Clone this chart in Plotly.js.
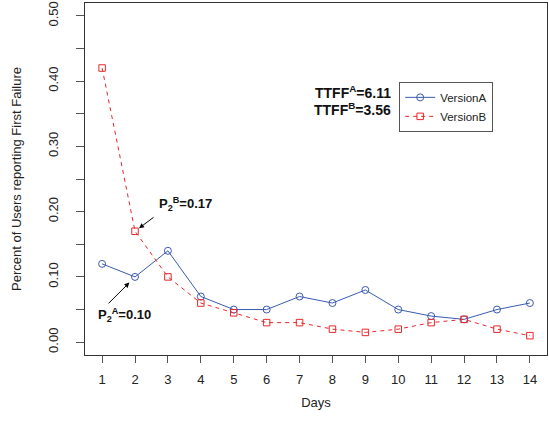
<!DOCTYPE html>
<html>
<head>
<meta charset="utf-8">
<script src="https://cdn.plot.ly/plotly-3.0.1.min.js"></script>
<style>html,body{margin:0;padding:0;background:#fff;}#chart{width:549px;height:423px;}</style>
</head>
<body>
<div id="chart"></div>
<script>
const days = [1,2,3,4,5,6,7,8,9,10,11,12,13,14];
const versionA = [0.12,0.10,0.14,0.07,0.05,0.05,0.07,0.06,0.08,0.05,0.04,0.035,0.05,0.06];
const versionB = [0.42,0.17,0.10,0.06,0.045,0.03,0.03,0.02,0.015,0.02,0.03,0.035,0.02,0.01];
const yTicks = [0,0.1,0.2,0.3,0.4,0.5];
const yTickLabels = ['0.00','0.10','0.20','0.30','0.40','0.50'];
const ttffA = '6.11', ttffB = '3.56';
const p2A = versionA[1], p2B = versionB[1];

const blue = '#3a5bb0', red = '#e8282b';
const font = 'Liberation Sans, Arial, sans-serif';

const traces = [
  {x: days, y: versionA, name: 'VersionA', type: 'scatter', mode: 'lines+markers',
   line: {color: blue, width: 1},
   marker: {symbol: 'circle-open', size: 7, color: blue, line: {width: 1, color: blue}}},
  {x: days, y: versionB, name: 'VersionB', type: 'scatter', mode: 'lines+markers',
   line: {color: red, width: 1, dash: '4px,4px'},
   marker: {symbol: 'square-open', size: 6.5, color: red, line: {width: 1, color: red}}}
];

const layout = {
  width: 549, height: 423,
  margin: {l: 85, r: 2, t: 3, b: 68},
  paper_bgcolor: '#fff', plot_bgcolor: '#fff',
  font: {family: font, color: '#222', size: 13},
  showlegend: true,
  legend: {x: 0.68, y: 0.776, xanchor: 'left', yanchor: 'top',
    bordercolor: '#555', borderwidth: 1, bgcolor: '#fff',
    font: {size: 11.5, color: '#222'}, tracegroupgap: 0},
  xaxis: {range: [0.48, 14.52], tickvals: days, ticktext: days.map(String),
    showgrid: false, zeroline: false, showline: true, mirror: true, linecolor: '#333', linewidth: 1,
    ticks: 'outside', ticklen: 7, tickcolor: '#555', ticklabelstandoff: 5,
    tickfont: {size: 13},
    title: {text: 'Days', font: {size: 13}, standoff: 12}},
  yaxis: {range: [-0.0196, 0.5196], tickvals: yTicks, ticktext: yTickLabels, tickangle: -90,
    showgrid: false, zeroline: false, showline: true, mirror: true, linecolor: '#333', linewidth: 1,
    ticks: 'outside', ticklen: 8, tickcolor: '#555', ticklabelstandoff: 13,
    minor: {dtick: 0.05, tick0: 0, ticks: 'outside', ticklen: 8, tickcolor: '#555', showgrid: false},
    tickfont: {size: 13},
    title: {text: 'Percent of Users reporting First Failure', font: {size: 13}, standoff: 21}},
  annotations: [
    {x: 2, y: p2B, xref: 'x', yref: 'y', text: '', showarrow: true, ax: 20, ay: -15,
     arrowhead: 2, arrowsize: 1, arrowwidth: 1, arrowcolor: '#000', standoff: 5},
    {x: 2, y: p2A, xref: 'x', yref: 'y', text: '', showarrow: true, ax: -28, ay: 28,
     arrowhead: 2, arrowsize: 1, arrowwidth: 1, arrowcolor: '#000', standoff: 8},
    {x: 2, y: p2B, xref: 'x', yref: 'y', showarrow: false, xshift: 50, yshift: 27,
     text: '<b>P<sub>2</sub><sup>B</sup>=' + p2B.toFixed(2) + '</b>', font: {size: 13, color: '#111'}},
    {x: 2, y: p2A, xref: 'x', yref: 'y', showarrow: false, xshift: -11, yshift: -38,
     text: '<b>P<sub>2</sub><sup>A</sup>=' + p2A.toFixed(2) + '</b>', font: {size: 13, color: '#111'}},
    {x: 0.667, y: 0.747, xref: 'paper', yref: 'paper', xanchor: 'right', yanchor: 'middle', showarrow: false,
     text: '<b>TTFF<sup>A</sup>=' + ttffA + '</b>', font: {size: 14, color: '#111'}},
    {x: 0.667, y: 0.700, xref: 'paper', yref: 'paper', xanchor: 'right', yanchor: 'middle', showarrow: false,
     text: '<b>TTFF<sup>B</sup>=' + ttffB + '</b>', font: {size: 14, color: '#111'}}
  ]
};

Plotly.newPlot('chart', traces, layout, {displayModeBar: false, staticPlot: true});
</script>
</body>
</html>
